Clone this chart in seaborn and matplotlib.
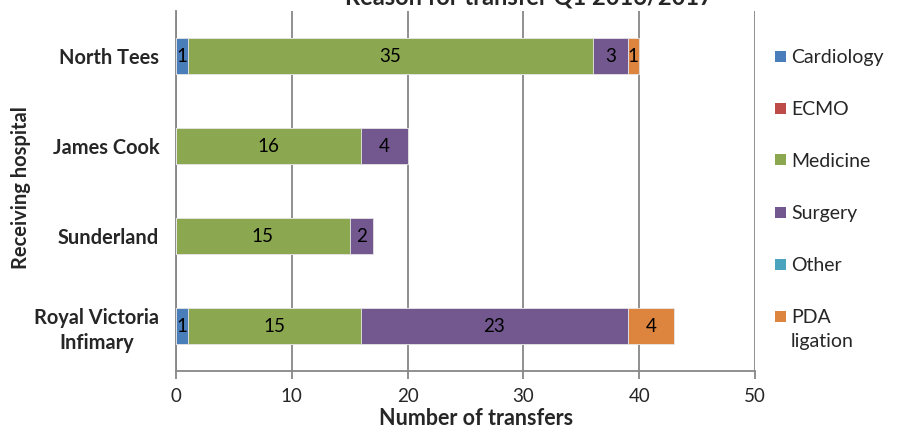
import numpy as np
import pandas as pd
import matplotlib
matplotlib.use("Agg")
import matplotlib.pyplot as plt
import seaborn as sns
from matplotlib.patches import Rectangle

hospitals = ["North Tees", "James Cook", "Sunderland", "Royal Victoria\nInfimary"]
reasons = ["Cardiology", "ECMO", "Medicine", "Surgery", "Other", "PDA\nligation"]
cardiology = [1, 0, 0, 1]
ecmo = [0, 0, 0, 0]
medicine = [35, 16, 15, 15]
surgery = [3, 4, 2, 23]
other = [0, 0, 0, 0]
pda = [1, 0, 0, 4]
colors = ["#4A7EBB", "#BE4B48", "#8BA750", "#72588F", "#4AA4BE", "#DD843F"]

sns.set_theme(style="white")
plt.rcParams["font.family"] = ["Lato", "DejaVu Sans"]

series = [cardiology, ecmo, medicine, surgery, other, pda]
vals = np.array(series, dtype=float)  # reasons x hospitals
cum = np.cumsum(vals, axis=0)

W, H = 898, 430
fig = plt.figure(figsize=(W / 100, H / 100), dpi=100)
ax = fig.add_axes([176 / W, 1 - 371 / H, (755 - 176) / W, 360 / H])

# draw cumulative bars from outermost to innermost so each segment shows
for i in range(len(reasons) - 1, -1, -1):
    df = pd.DataFrame({"hospital": hospitals, "value": cum[i]})
    sns.barplot(data=df, x="value", y="hospital", order=hospitals, orient="h",
                color=colors[i], saturation=1, width=0.39, ax=ax,
                edgecolor="#E8E8E8", linewidth=0.6, zorder=3)

# value labels
for i in range(len(reasons)):
    for j in range(len(hospitals)):
        v = vals[i, j]
        if v > 0:
            xc = cum[i, j] - v / 2
            ax.text(xc, j, f"{int(v)}", ha="center", va="center",
                    fontsize=13.5, color="black", zorder=5)

ax.set_xlim(0, 50)
ax.set_ylim(3.5, -0.5)
ax.set_xticks(np.arange(0, 51, 10))
ax.xaxis.grid(True, color="#878787", linewidth=1.3, zorder=0)
ax.yaxis.grid(False)
for s in ["top", "right"]:
    ax.spines[s].set_visible(False)
for s in ["left", "bottom"]:
    ax.spines[s].set_color("#878787")
    ax.spines[s].set_linewidth(1.3)

ax.set_yticks(range(len(hospitals)))
ax.set_yticklabels(hospitals, fontweight="bold", fontsize=14.4, ha="right",
                   multialignment="center", linespacing=1.3)
ax.set_yticks(np.arange(-0.5, 3.6, 1), minor=True)
ax.tick_params(axis="y", which="major", length=0, pad=12)
ax.tick_params(axis="y", which="minor", length=6, width=1.3, color="#878787", direction="out")
ax.tick_params(axis="x", which="major", length=6, width=1.3, color="#878787",
               direction="out", labelsize=13.5, pad=6, bottom=True)

ax.set_xlabel("Number of transfers", fontweight="bold", fontsize=15.5)
ax.xaxis.set_label_coords(0.518, -0.102)
ax.set_ylabel("Receiving hospital", fontweight="bold", fontsize=14.5)
ax.yaxis.set_label_coords(-0.250, 0.51)

fig.text(529 / W, 1 - 5 / H, "Reason for transfer Q1 2016/2017",
         ha="center", va="baseline", fontweight="bold", fontsize=17)

# legend
ys = [56, 108, 160, 212, 264, 316]
for lab, c, y in zip(reasons, colors, ys):
    fig.patches.append(Rectangle(((775) / W, 1 - (y + 5.5) / H), 11 / W, 11 / H,
                                 transform=fig.transFigure, facecolor=c, edgecolor="none"))
    fig.text(791 / W, 1 - (y - 7) / H, lab, ha="left", va="top", fontsize=14,
             linespacing=1.5)

fig.savefig("out.png", dpi=100)
